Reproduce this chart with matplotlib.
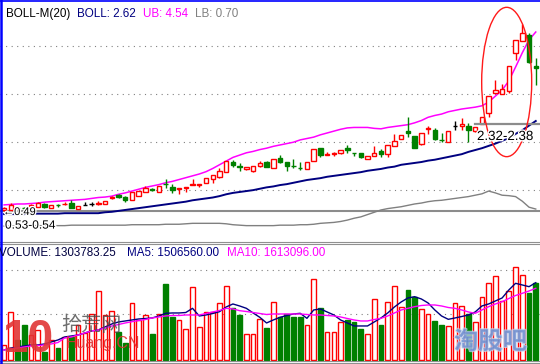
import numpy as np
import matplotlib
matplotlib.use("Agg")
import matplotlib.pyplot as plt
from matplotlib.patches import Ellipse
from matplotlib.lines import Line2D
import matplotlib.patheffects as pe

plt.rcParams['font.family'] = ['Liberation Sans', 'DejaVu Sans', 'Noto Sans CJK SC']

# daily candles (price)
opens = [0.68, 0.68, 0.73, 0.73, 0.70, 0.74, 0.81, 0.72, 0.79, 0.80,
         0.83, 0.70, 0.79, 0.81, 0.81, 0.82, 0.95, 1.00, 0.96, 0.90,
         0.99, 1.06, 1.13, 1.08, 1.25, 1.18, 1.14, 1.16, 1.23, 1.23,
         1.26, 1.35, 1.40, 1.51, 1.73, 1.63, 1.57, 1.53, 1.63, 1.73,
         1.58, 1.81, 1.71, 1.64, 1.60, 1.56, 1.74, 2.02, 1.87, 1.90,
         1.92, 2.02, 1.92, 1.91, 1.79, 1.84, 1.96, 1.89, 2.07, 2.23,
         2.39, 2.28, 2.11, 2.44, 2.41, 2.20, 2.16, 2.50, 2.51, 2.50,
         2.40, 2.54, 2.78, 3.22, 3.19, 3.27, 4.08, 4.35, 4.48, 3.80]
closes = [0.72, 0.79, 0.72, 0.72, 0.79, 0.83, 0.74, 0.79, 0.78, 0.81,
          0.72, 0.77, 0.79, 0.81, 0.83, 0.88, 0.96, 0.96, 0.90, 1.07,
          1.10, 1.16, 1.11, 1.20, 1.24, 1.11, 1.15, 1.17, 1.24, 1.24,
          1.37, 1.44, 1.52, 1.74, 1.65, 1.62, 1.61, 1.63, 1.70, 1.62,
          1.79, 1.71, 1.63, 1.63, 1.59, 1.71, 2.00, 1.87, 1.89, 1.91,
          1.97, 1.97, 1.91, 1.83, 1.86, 1.92, 1.89, 2.09, 2.18, 2.31,
          2.36, 2.02, 2.36, 2.46, 2.23, 2.19, 2.39, 2.50, 2.54, 2.41,
          2.47, 2.70, 3.15, 3.28, 3.30, 3.80, 4.37, 4.52, 3.90, 3.76]
highs = [0.74, 0.83, 0.77, 0.74, 0.80, 0.85, 0.83, 0.79, 0.82, 0.85,
         0.90, 0.77, 0.85, 0.85, 0.87, 0.88, 0.98, 1.03, 0.98, 1.07,
         1.10, 1.20, 1.16, 1.20, 1.35, 1.24, 1.15, 1.17, 1.35, 1.24,
         1.37, 1.44, 1.59, 1.74, 1.76, 1.70, 1.61, 1.63, 1.74, 1.74,
         1.79, 1.87, 1.72, 1.79, 1.72, 1.71, 2.00, 2.02, 1.94, 1.94,
         1.97, 2.09, 1.92, 1.91, 1.86, 2.07, 2.00, 2.09, 2.33, 2.31,
         2.69, 2.28, 2.36, 2.50, 2.46, 2.35, 2.39, 2.61, 2.67, 2.56,
         2.47, 2.70, 3.15, 3.50, 3.41, 3.80, 4.37, 4.71, 4.52, 3.97]
lows = [0.66, 0.66, 0.68, 0.70, 0.69, 0.74, 0.73, 0.72, 0.75, 0.79,
        0.72, 0.70, 0.79, 0.77, 0.79, 0.82, 0.92, 0.94, 0.85, 0.90,
        0.99, 1.06, 1.09, 1.08, 1.16, 1.05, 1.03, 1.08, 1.22, 1.18,
        1.26, 1.27, 1.37, 1.51, 1.61, 1.52, 1.55, 1.50, 1.61, 1.62,
        1.58, 1.70, 1.52, 1.59, 1.55, 1.56, 1.74, 1.83, 1.87, 1.85,
        1.89, 1.92, 1.85, 1.81, 1.79, 1.84, 1.83, 1.83, 2.07, 2.23,
        2.27, 2.02, 2.09, 2.33, 2.20, 2.15, 2.16, 2.41, 2.41, 2.16,
        2.37, 2.54, 2.70, 3.22, 3.19, 3.22, 3.93, 4.35, 3.87, 3.39]

# bollinger bands
boll_mid = [0.59, 0.59, 0.59, 0.59, 0.60, 0.60, 0.60, 0.60, 0.60, 0.61,
            0.61, 0.61, 0.61, 0.61, 0.61, 0.63, 0.64, 0.66, 0.68, 0.70,
            0.72, 0.74, 0.76, 0.78, 0.80, 0.82, 0.84, 0.86, 0.89, 0.91,
            0.93, 0.95, 0.98, 1.02, 1.05, 1.07, 1.09, 1.11, 1.14, 1.17,
            1.19, 1.22, 1.24, 1.27, 1.30, 1.33, 1.35, 1.37, 1.40, 1.42,
            1.44, 1.46, 1.48, 1.50, 1.53, 1.55, 1.57, 1.60, 1.62, 1.66,
            1.68, 1.70, 1.72, 1.75, 1.77, 1.80, 1.83, 1.86, 1.89, 1.94,
            1.98, 2.02, 2.07, 2.12, 2.18, 2.24, 2.33, 2.41, 2.51, 2.61]
boll_ub = [0.79, 0.80, 0.81, 0.81, 0.82, 0.83, 0.85, 0.86, 0.87, 0.88,
           0.89, 0.90, 0.91, 0.93, 0.95, 0.96, 0.98, 1.02, 1.05, 1.09,
           1.13, 1.17, 1.20, 1.23, 1.27, 1.30, 1.34, 1.38, 1.42, 1.46,
           1.51, 1.58, 1.66, 1.74, 1.82, 1.87, 1.92, 1.95, 1.99, 2.02,
           2.06, 2.09, 2.12, 2.15, 2.20, 2.23, 2.26, 2.31, 2.35, 2.39,
           2.43, 2.46, 2.47, 2.47, 2.47, 2.45, 2.44, 2.47, 2.49, 2.51,
           2.53, 2.57, 2.62, 2.69, 2.73, 2.76, 2.81, 2.84, 2.87, 2.89,
           2.91, 2.94, 3.02, 3.15, 3.28, 3.48, 3.78, 4.09, 4.37, 4.54]
boll_lb = [0.33, 0.33, 0.33, 0.33, 0.34, 0.34, 0.34, 0.34, 0.34, 0.34,
           0.35, 0.35, 0.35, 0.35, 0.35, 0.35, 0.35, 0.35, 0.35, 0.36,
           0.36, 0.36, 0.36, 0.36, 0.37, 0.37, 0.37, 0.38, 0.39, 0.39,
           0.39, 0.39, 0.39, 0.38, 0.36, 0.35, 0.34, 0.34, 0.34, 0.34,
           0.34, 0.35, 0.35, 0.35, 0.36, 0.36, 0.37, 0.39, 0.40, 0.41,
           0.43, 0.46, 0.50, 0.53, 0.58, 0.63, 0.68, 0.71, 0.73, 0.75,
           0.78, 0.81, 0.83, 0.86, 0.88, 0.89, 0.91, 0.93, 0.95, 0.97,
           1.00, 1.03, 1.09, 1.05, 1.00, 0.99, 0.97, 0.87, 0.74, 0.70]

# volume (10k shares) with its moving averages
volume = [24.7, 81.3, 33.2, 58.7, 41.7, 50.2, 12.8, 33.2, 19.6, 38.8,
          38.3, 58.7, 45.1, 77.4, 116.5, 75.7, 82.5, 47.3, 28.1, 95.5,
          67.2, 75.7, 43.4, 77.4, 128.4, 72.8, 67.2, 51.3, 122.7, 54.7,
          81.3, 81.3, 95.5, 125.0, 87.0, 75.7, 43.4, 43.4, 68.9, 53.0,
          98.3, 72.8, 77.4, 72.8, 72.8, 58.7, 136.9, 88.1, 46.8, 46.8,
          63.8, 66.6, 63.8, 51.3, 43.4, 102.9, 58.7, 97.8, 125.0, 89.3,
          118.2, 105.7, 86.4, 77.4, 66.0, 58.7, 57.0, 96.6, 91.0, 77.4,
          64.3, 106.8, 130.6, 142.0, 99.5, 116.5, 156.7, 144.2, 113.6, 130.38]
vol_ma5 = [16.2, 19.6, 21.3, 23.0, 24.7, 24.7, 26.4, 29.8, 33.2, 38.3,
           40.0, 41.7, 45.1, 48.5, 50.2, 55.3, 60.4, 63.8, 65.5, 67.2,
           68.9, 69.7, 70.6, 74.0, 78.5, 79.1, 79.1, 79.9, 87.0, 74.0,
           75.7, 78.2, 81.3, 89.3, 94.4, 91.0, 87.0, 79.1, 71.7, 62.1,
           67.2, 71.7, 74.8, 77.4, 78.5, 70.0, 84.2, 85.9, 80.8, 75.7,
           67.2, 62.1, 57.0, 57.0, 57.0, 63.8, 70.6, 79.1, 89.3, 97.8,
           104.6, 106.8, 102.9, 96.1, 84.2, 74.0, 68.3, 70.6, 73.1, 75.7,
           80.8, 91.0, 94.4, 99.5, 104.6, 118.2, 129.5, 126.7, 123.8, 130.6]
vol_ma10 = [16.2, 17.9, 19.6, 21.3, 23.0, 23.8, 24.7, 26.4, 28.9, 36.6,
            38.3, 41.7, 45.1, 48.5, 50.2, 53.6, 57.0, 59.5, 62.1, 64.3,
            66.3, 68.0, 70.6, 72.3, 74.0, 74.8, 74.8, 75.7, 75.7, 75.7,
            78.2, 80.8, 83.3, 87.0, 85.9, 83.0, 81.6, 79.9, 78.2, 76.5,
            77.4, 77.4, 77.4, 77.4, 77.4, 76.5, 75.7, 75.7, 74.8, 74.0,
            72.3, 69.7, 67.2, 65.5, 65.5, 68.0, 70.0, 74.0, 79.1, 84.2,
            87.0, 89.8, 91.8, 92.7, 92.7, 91.0, 88.4, 87.0, 84.2, 80.8,
            78.5, 84.2, 89.8, 94.4, 98.3, 103.7, 108.8, 112.5, 116.5, 121.0]

RED = '#ff0000'
GREEN = '#008000'
NAVY = '#000080'
MAG = '#ff00ff'
GRAY = '#808080'

W, H = 540.0, 364.0
fig = plt.figure(figsize=(W / 100, H / 100), dpi=100)
fig.patch.set_facecolor('white')
ax = fig.add_axes([0, 122 / H, 1, 241 / H])
axv = fig.add_axes([0, 2 / H, 1, 119 / H])

o = np.array(opens)
c = np.array(closes)
hi = np.array(highs)
lo = np.array(lows)
idx = np.arange(len(o))

# ---- price panel ----
for g in [4.236, 3.195, 2.154, 1.113]:
    ax.axhline(g, color=GRAY, lw=0.8, ls=(0, (1, 4)), zorder=1)
ax.axhline(0.657, color='#8c8c8c', lw=1.5, zorder=1)

ax.plot(idx, boll_lb, color=GRAY, lw=1.0, zorder=2)
ax.plot(idx, boll_mid, color=NAVY, lw=1.4, zorder=2)
ax.plot(idx, boll_ub, color=MAG, lw=1.1, zorder=2)

col = np.where(c > o, RED, np.where(c < o, GREEN, '#000000'))
face = np.where(c > o, 'white', col)
ax.vlines(idx, lo, hi, colors=col, lw=1.0, zorder=3)
ax.bar(idx, np.abs(c - o), bottom=np.minimum(o, c), width=0.66,
       color=face, edgecolor=col, linewidth=1.0, zorder=4)

# support band marker and the circled breakout
ax.plot([69.9, 80], [2.54, 2.54], color='#8c8c8c', lw=1.6, zorder=5)
ax.add_patch(Ellipse((74.68, 3.456), 7.43, 3.24, fill=False,
                     edgecolor='#ff1a1a', lw=1.0, zorder=6))

ax.set_xlim(-0.609, 79.63)
ax.set_ylim(-0.015, 5.213)
ax.axis('off')

# ---- volume panel ----
for g in [152.2, 77.35]:
    axv.axhline(g, color=GRAY, lw=0.8, ls=(0, (1, 4)), zorder=1)
vup = c >= o
axv.bar(idx, volume, width=0.70, color=np.where(vup, 'white', GREEN),
        edgecolor=np.where(vup, RED, GREEN), linewidth=1.0, zorder=3)
axv.plot(idx, vol_ma5, color=NAVY, lw=1.0, zorder=4)
axv.plot(idx, vol_ma10, color=MAG, lw=1.0, zorder=4)
axv.set_xlim(-0.609, 79.63)
axv.set_ylim(-4.25, 198.05)
axv.axis('off')

# ---- frame lines ----
def hline(ypix, color, lw):
    fig.add_artist(Line2D([0, 1], [1 - ypix / H] * 2, transform=fig.transFigure,
                          color=color, lw=lw))

hline(0.6, '#0000ff', 1.2)
hline(241.8, '#909090', 0.8)
hline(243.6, '#909090', 0.8)
hline(360.8, '#909090', 0.8)
hline(362.8, '#909090', 0.8)
fig.add_artist(Line2D([1 / W, 1 / W], [0, 1], transform=fig.transFigure,
                      color='#0000ff', lw=1.8))

# ---- texts ----
def ftext(xp, yp, s, **kw):
    fig.text(xp / W, 1 - yp / H, s, va='baseline', ha='left', **kw)

ftext(6, 16.8, 'BOLL-M(20)', color='black', fontsize=8.4)
ftext(77, 16.8, 'BOLL: 2.62', color=NAVY, fontsize=8.4)
ftext(143, 16.8, 'UB: 4.54', color=MAG, fontsize=8.4)
ftext(195, 16.8, 'LB: 0.70', color=GRAY, fontsize=8.4)

ftext(-1, 256.2, 'VOLUME: 1303783.25', color='#000040', fontsize=8.4)
ftext(127, 256.2, 'MA5: 1506560.00', color=NAVY, fontsize=8.4)
ftext(227, 256.2, 'MA10: 1613096.00', color=MAG, fontsize=8.4)

halo = [pe.withStroke(linewidth=2, foreground='white')]
ftext(477, 140, '2.32-2.38', color='black', fontsize=9.6, path_effects=halo)
ftext(3, 215, '\u21900.49', color='black', fontsize=8.0, path_effects=halo)
ftext(5, 228.6, '0.53-0.54', color='black', fontsize=8.6, path_effects=halo)

# watermarks
ftext(2, 352, '10', color='#e03535', fontsize=33, fontweight='bold', alpha=0.9)
ftext(61, 331, '拾荒网', color='#4a4a4a', fontsize=14.5, alpha=0.8,
      family=['Noto Sans CJK SC'])
ftext(66, 348, 'Huang.CN', color='#e03030', fontsize=11.5, alpha=0.9)
ftext(454, 349, '淘股吧', color='#6f8fd0', fontsize=17.5, alpha=0.75,
      fontweight='bold', family=['Noto Sans CJK SC'],
      path_effects=[pe.withStroke(linewidth=1.5, foreground='#c8d8f0')])

fig.savefig('out.png', dpi=100, facecolor='white')
